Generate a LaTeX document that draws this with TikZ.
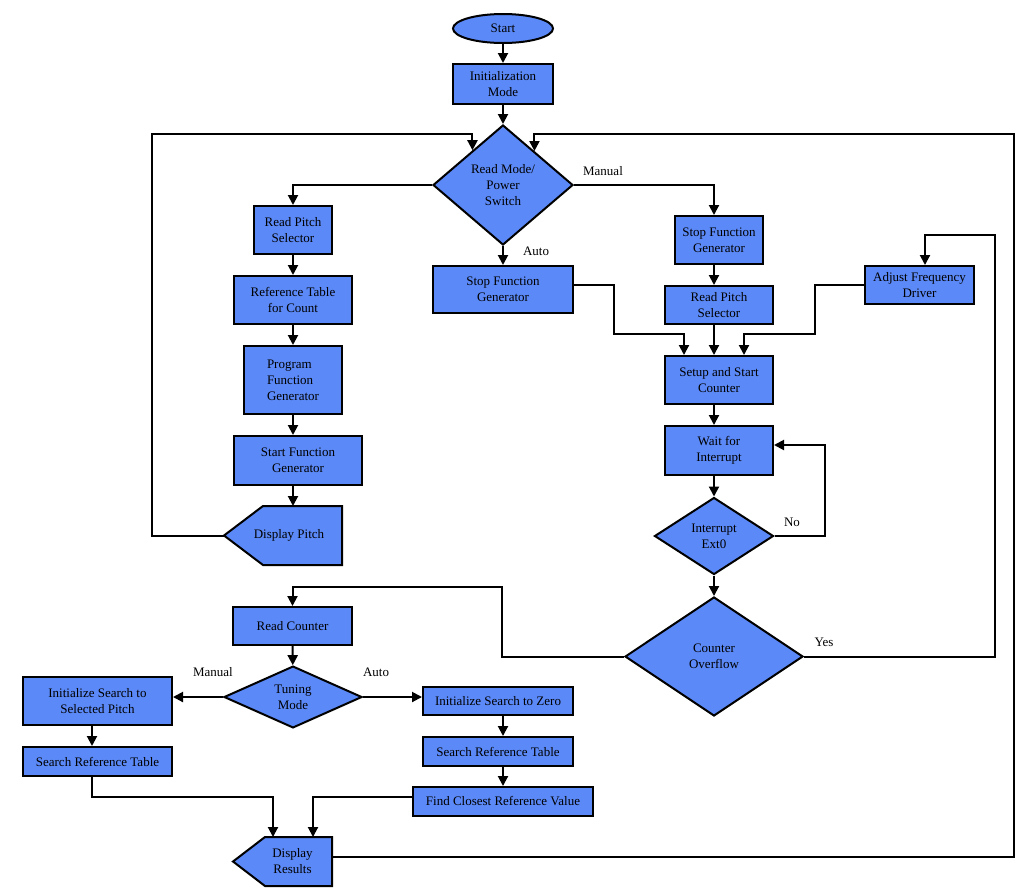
\documentclass[tikz,border=0pt]{standalone}
\usepackage{fontspec}
\setmainfont{Liberation Serif}
\usetikzlibrary{shapes.geometric,arrows.meta,backgrounds,calc}
\definecolor{fc}{RGB}{91,137,247}
\begin{document}
\begin{tikzpicture}[x=1pt,y=-1pt,
  every node/.style={font=\fontsize{13}{16}\selectfont},
  box/.style={draw, fill=fc, line width=2pt, inner sep=0pt, align=center},
  dia/.style={draw, fill=fc, diamond, line width=2pt, inner sep=0pt, align=center},
  disp/.style={inner sep=0pt, outer sep=0pt, align=center},
  lab/.style={inner sep=0pt},
  arr/.style={line width=2pt, -{Triangle[length=10pt,width=10pt]}}]
\useasboundingbox (0,0) rectangle (1015,887);

% nodes
\node[box, ellipse, minimum width=100, minimum height=29] (start) at (503,28.5) {Start};
\node[box, minimum width=100, minimum height=40] (init) at (503,84) {Initialization\\Mode};
\node[dia, minimum width=140, minimum height=120] (mode) at (503,185) {Read Mode/\\Power\\Switch};
\node[box, minimum width=78, minimum height=48] (rps1) at (293,230) {Read Pitch\\Selector};
\node[box, minimum width=118, minimum height=48] (reft) at (293,300) {Reference Table\\for Count};
\node[box, minimum width=98, minimum height=68, align=left] (pfg) at (293,380) {Program\\Function\\Generator};
\node[box, minimum width=128, minimum height=49] (sfg) at (298,460.5) {Start Function\\Generator};
\node[disp, minimum width=118, minimum height=59] (dp) at (283,535.5) {\hspace*{12pt}Display Pitch};
\node[box, minimum width=140, minimum height=47] (sfg1) at (503,289.5) {Stop Function\\Generator};
\node[box, minimum width=88, minimum height=48] (sfg2) at (719,240) {Stop Function\\Generator};
\node[box, minimum width=108, minimum height=38] (rps2) at (719,305) {Read Pitch\\Selector};
\node[box, minimum width=109, minimum height=38] (afd) at (919.5,285) {Adjust Frequency\\Driver};
\node[box, minimum width=108, minimum height=48] (setup) at (719,380) {Setup and Start\\Counter};
\node[box, minimum width=108, minimum height=49] (wait) at (719,450.5) {Wait for\\Interrupt};
\node[dia, minimum width=119, minimum height=77] (ext0) at (714,536) {Interrupt\\Ext0};
\node[dia, minimum width=178, minimum height=119] (co) at (714,656.5) {Counter\\Overflow};
\node[box, minimum width=119, minimum height=38] (rc) at (292.5,626) {Read Counter};
\node[dia, minimum width=138, minimum height=59] (tm) at (293,697) {Tuning\\Mode};
\node[box, minimum width=149, minimum height=48] (isp) at (97.5,701) {Initialize Search to\\Selected Pitch};
\node[box, minimum width=149, minimum height=29] (srt1) at (97.5,761.5) {Search Reference Table};
\node[box, minimum width=150, minimum height=28] (isz) at (498,701) {Initialize Search to Zero};
\node[box, minimum width=150, minimum height=29] (srt2) at (498,751.5) {Search Reference Table};
\node[box, minimum width=180, minimum height=29] (fcr) at (503,801.5) {Find Closest Reference Value};
\node[disp, minimum width=99, minimum height=49] (dr) at (282.5,861.5) {\hspace*{20pt}Display\\\hspace*{20pt}Results};

\begin{scope}[on background layer]
\draw[line width=2pt, fill=fc] ([xshift=39pt]dp.north west) -- (dp.north east) -- (dp.south east) -- ([xshift=39pt]dp.south west) -- (dp.west) -- cycle;
\draw[line width=2pt, fill=fc] ([xshift=32pt]dr.north west) -- (dr.north east) -- (dr.south east) -- ([xshift=32pt]dr.south west) -- (dr.west) -- cycle;
\end{scope}

% labels
\node[lab] (l1) at (603,171) {Manual};
\node[lab] (l2) at (536,251) {Auto};
\node[lab] (l3) at (792,522) {No};
\node[lab] (l4) at (824,642) {Yes};
\node[lab] (l5) at (213,672) {Manual};
\node[lab] (l6) at (376,672) {Auto};

% helper coordinates
\coordinate (mlin) at ($(mode.north)!0.43!(mode.west)$);
\coordinate (mrin) at ($(mode.north)!0.443!(mode.east)$);
\coordinate (col) at (714,0);

% connectors
\draw[arr] (start) -- (init);
\draw[arr] (init) -- (mode);
\draw[arr] (mode.west) -| (rps1);
\draw[arr] (rps1) -- (reft);
\draw[arr] (reft) -- (pfg);
\draw[arr] (pfg.south) -- (pfg.south |- sfg.north);
\draw[arr] (pfg.south |- sfg.south) -- (pfg.south |- dp.north);
\draw[arr] (dp.west) -| (152,134) -| (mlin);
\draw[arr] (mode.south) -- (sfg1);
\draw[arr] (mode.east) -| (sfg2.north -| col);
\draw[arr] (sfg2.south -| col) -- (rps2.north -| col);
\draw[arr] (rps2.south -| col) -- (setup.north -| col);
\draw[arr] ([yshift=5pt]sfg1.east) -| (614,334) -| ([xshift=-35pt]setup.north);
\draw[arr] (afd.west) -| (815,334) -| ([xshift=25pt]setup.north);
\draw[arr] (setup.south -| col) -- (wait.north -| col);
\draw[arr] (wait.south -| col) -- (ext0);
\draw[arr] (ext0.east) -| (825,445) -- (wait.east |- 0,445);
\draw[arr] (ext0) -- (co);
\draw[arr] (co.east) -| (995,235) -| ([xshift=5.5pt]afd.north);
\draw[arr] (co.west) -| (502,587) -| (rc);
\draw[arr] (rc) -- (tm);
\draw[arr] (tm.west) -- (tm.west -| isp.east);
\draw[arr] (tm.east) -- (tm.east -| isz.west);
\draw[arr] ([xshift=-5.5pt]isp.south) -- ([xshift=-5.5pt]srt1.north);
\draw[arr] ([xshift=-5.5pt]srt1.south) |- (273,797) -- ([xshift=-9.5pt]dr.north);
\draw[arr] ([xshift=5pt]isz.south) -- ([xshift=5pt]srt2.north);
\draw[arr] ([xshift=5pt]srt2.south) -- (fcr.north);
\draw[arr] ([yshift=4.5pt]fcr.west) -| ([xshift=30.5pt]dr.north);
\draw[arr] ([yshift=4.5pt]dr.east) -| (1014,134) -| (mrin);
\end{tikzpicture}
\end{document}
